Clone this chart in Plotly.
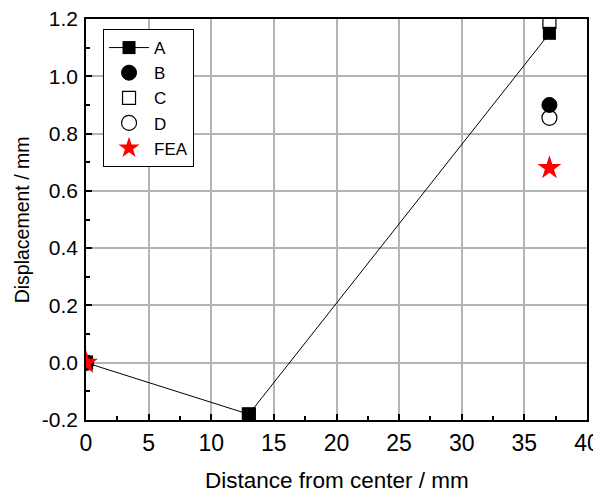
import plotly.graph_objects as go

# Data
a_x = [0, 13, 37]
a_y = [0.0, -0.18, 1.15]
b_x = [0, 37]
b_y = [0.0, 0.90]
c_x = [0, 13, 37]
c_y = [0.0, -0.18, 1.19]
d_x = [0, 37]
d_y = [0.0, 0.855]
fea_x = [0, 37]
fea_y = [0.0, 0.68]

x_ticks = [0, 5, 10, 15, 20, 25, 30, 35, 40]
y_ticks = [-0.2, 0.0, 0.2, 0.4, 0.6, 0.8, 1.0, 1.2]
y_tick_text = ["-0.2", "0.0", "0.2", "0.4", "0.6", "0.8", "1.0", "1.2"]

font = "Liberation Sans, Arial, sans-serif"

fig = go.Figure()
fig.add_trace(go.Scatter(x=d_x, y=d_y, name="D", mode="markers",
                         marker=dict(symbol="circle", size=15, color="white",
                                     line=dict(color="black", width=1.2))))
fig.add_trace(go.Scatter(x=b_x, y=b_y, name="B", mode="markers",
                         marker=dict(symbol="circle", size=15, color="black",
                                     line=dict(color="black", width=1))))
fig.add_trace(go.Scatter(x=c_x, y=c_y, name="C", mode="markers",
                         marker=dict(symbol="square", size=13, color="white",
                                     line=dict(color="black", width=1.2))))
fig.add_trace(go.Scatter(x=a_x, y=a_y, name="A", mode="lines+markers",
                         line=dict(color="black", width=1),
                         marker=dict(symbol="square", size=13, color="black")))
fig.add_trace(go.Scatter(x=fea_x, y=fea_y, name="FEA", mode="markers",
                         marker=dict(symbol="star", size=18, color="red",
                                     line=dict(width=0))))

axis_common = dict(
    showline=True, linecolor="black", linewidth=1.5, mirror=True,
    ticks="inside", ticklen=6, tickwidth=1.5, tickcolor="black",
    showgrid=True, gridcolor="#b4b4b4", gridwidth=1.5,
    zeroline=False, layer="below traces", automargin=False,
    ticklabeloverflow="allow",
)

# The page body has an 8px default margin, so the figure is sized/offset to compensate
fig.update_layout(
    width=593, height=490,
    margin=dict(l=78, r=14, t=11, b=78),
    plot_bgcolor="white", paper_bgcolor="white",
    font=dict(family=font, color="black"),
    xaxis=dict(range=[0, 40], tickvals=x_ticks, ticklabelstandoff=2,
               tickfont=dict(family=font, size=23, color="black"),
               minor=dict(ticks="inside", ticklen=4, tickwidth=1.5, tickcolor="black", dtick=2.5, showgrid=False),
               **axis_common),
    yaxis=dict(range=[-0.2, 1.2], tickvals=y_ticks, ticktext=y_tick_text, ticklabelstandoff=2,
               tickfont=dict(family=font, size=21, color="black"),
               minor=dict(ticks="inside", ticklen=4, tickwidth=1.5, tickcolor="black", dtick=0.1, showgrid=False),
               **axis_common),
    legend=dict(x=0.034, y=0.975, xanchor="left", yanchor="top",
                bordercolor="black", borderwidth=1, bgcolor="white",
                font=dict(family=font, size=17, color="black"),
                traceorder="normal", tracegroupgap=0,
                itemsizing="trace", itemwidth=40),
    showlegend=True,
    annotations=[
        dict(text="Distance from center / mm", xref="paper", yref="paper",
             x=0.5, y=-0.152, xanchor="center", yanchor="middle", showarrow=False,
             font=dict(family=font, size=22.5, color="black")),
        dict(text="Displacement / mm", xref="paper", yref="paper",
             x=-0.128, y=0.5, xanchor="center", yanchor="middle", textangle=-90,
             showarrow=False, font=dict(family=font, size=19.5, color="black")),
    ],
)

# Legend ordering: A, B, C, D, FEA
order = {"A": 1, "B": 2, "C": 3, "D": 4, "FEA": 5}
for tr in fig.data:
    tr.legendrank = order[tr.name]

fig.write_html("out.html")
